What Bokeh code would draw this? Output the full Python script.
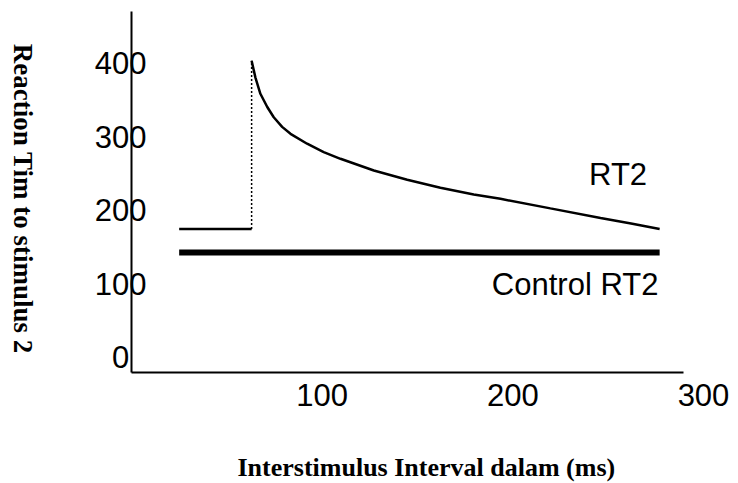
import math
from bokeh.plotting import figure
from bokeh.layouts import row, column
from bokeh.models import LinearAxis, FixedTicker, Label, Range1d
from bokeh.embed import file_html
from bokeh.resources import INLINE

# ---- data ----
x_ticks = [100, 200, 300]
y_ticks = [0, 100, 200, 300, 400]

# RT2 before the switch (flat part)
pre_x = [25, 63]
pre_y = [175, 175]

# RT2 decaying curve after the switch
curve_x = [63, 65.0, 67.6, 71.2, 74.6, 79.0, 83.4, 92.1, 100.8, 109.6,
           127.1, 144.6, 162.0, 179.5, 193.5, 219.7, 246, 262, 277]
curve_y = [404, 381, 359, 341, 327, 314, 304.5, 291, 279.5, 270.5,
           254.6, 242, 231, 222, 216, 203, 190, 182.5, 175]

# Control RT2 (constant)
control_x = [25, 277]
control_y = [143, 143]

x_axis_end = 289.5
x_title = "Interstimulus Interval dalam (ms)"
y_title = "Reaction Tim to stimulus 2"

SANS = "Liberation Sans"
SERIF = "Liberation Serif"

W, H = 736, 482
TW = 40      # strip holding the vertical title
BH = 42      # strip holding the horizontal title
H1 = H - BH

y_range = Range1d(-20.4, 471)


def clean(fig):
    fig.outline_line_color = None
    fig.xgrid.grid_line_color = None
    fig.ygrid.grid_line_color = None
    return fig


p = clean(figure(width=W - TW, height=H1,
                 x_range=Range1d(0, 300), y_range=y_range,
                 x_axis_location=None, y_axis_location=None,
                 output_backend="svg", toolbar_location=None,
                 min_border_left=131 - TW, min_border_right=33,
                 min_border_top=11, min_border_bottom=H1 - 372))

# y axis
yax = LinearAxis(ticker=FixedTicker(ticks=y_ticks))
yax.axis_line_width = 2
yax.axis_line_color = "black"
yax.major_tick_line_color = None
yax.minor_tick_line_color = None
yax.major_tick_out = 0
yax.major_tick_in = 0
yax.minor_tick_out = 0
yax.minor_tick_in = 0
yax.major_label_standoff = -15
yax.major_label_overrides = {0: "0\u00a0\u00a0"}
yax.major_label_text_font = SANS
yax.major_label_text_font_size = "31px"
yax.major_label_text_color = "black"
p.add_layout(yax, "left")

# x axis line (shorter than the tick range)
xa = LinearAxis(ticker=FixedTicker(ticks=[]), bounds=(0, x_axis_end))
xa.axis_line_width = 2
xa.axis_line_color = "black"
xa.major_tick_out = 0
xa.major_tick_in = 0
xa.minor_tick_out = 0
xa.minor_tick_in = 0
xa.major_tick_line_color = None
xa.minor_tick_line_color = None
xa.major_label_standoff = 0
xa.axis_label_standoff = 0
p.add_layout(xa, "below")

# x axis tick labels
xb = LinearAxis(ticker=FixedTicker(ticks=x_ticks))
xb.axis_line_color = None
xb.major_tick_line_color = None
xb.minor_tick_line_color = None
xb.major_tick_out = 0
xb.major_tick_in = 0
xb.minor_tick_out = 0
xb.minor_tick_in = 0
xb.major_label_standoff = 11
xb.major_label_text_font = SANS
xb.major_label_text_font_size = "31px"
xb.major_label_text_color = "black"
p.add_layout(xb, "below")

# lines
p.line(pre_x, pre_y, line_color="black", line_width=2.5)
p.line([pre_x[-1], curve_x[0]], [pre_y[-1], curve_y[0]],
       line_color="black", line_width=1.5, line_dash="2 2")
p.line(curve_x, curve_y, line_color="black", line_width=2.5)
p.line(control_x, control_y, line_color="black", line_width=6)

# text labels
p.add_layout(Label(x=240, y=249, text="RT2", text_font=SANS, text_font_size="31px",
                   text_color="black", text_align="left", text_baseline="middle"))
p.add_layout(Label(x=189, y=99, text="Control RT2", text_font=SANS, text_font_size="31px",
                   text_color="black", text_align="left", text_baseline="middle"))

# strip with the vertical y title (reads top to bottom)
t = clean(figure(width=TW, height=H1, x_range=Range1d(0, TW), y_range=y_range,
                 x_axis_location=None, y_axis_location=None,
                 output_backend="svg", toolbar_location=None,
                 min_border_left=0, min_border_right=0,
                 min_border_top=11, min_border_bottom=H1 - 372))
t.add_layout(Label(x=22, y=216, text=y_title, angle=-math.pi / 2,
                   text_font=SERIF, text_font_style="bold", text_font_size="27px",
                   text_color="black", text_align="center", text_baseline="middle"))

# strip with the horizontal x title
b = clean(figure(width=W, height=BH, x_range=Range1d(0, W), y_range=Range1d(0, BH),
                 x_axis_location=None, y_axis_location=None,
                 output_backend="svg", toolbar_location=None,
                 min_border_left=0, min_border_right=0,
                 min_border_top=0, min_border_bottom=0))
b.add_layout(Label(x=237, y=15.5, text=x_title,
                   text_font=SERIF, text_font_style="bold", text_font_size="26px",
                   text_color="black", text_align="left", text_baseline="alphabetic"))

layout = column(row(t, p, spacing=0), b, spacing=0)
open("out.html", "w").write(file_html(layout, INLINE))
